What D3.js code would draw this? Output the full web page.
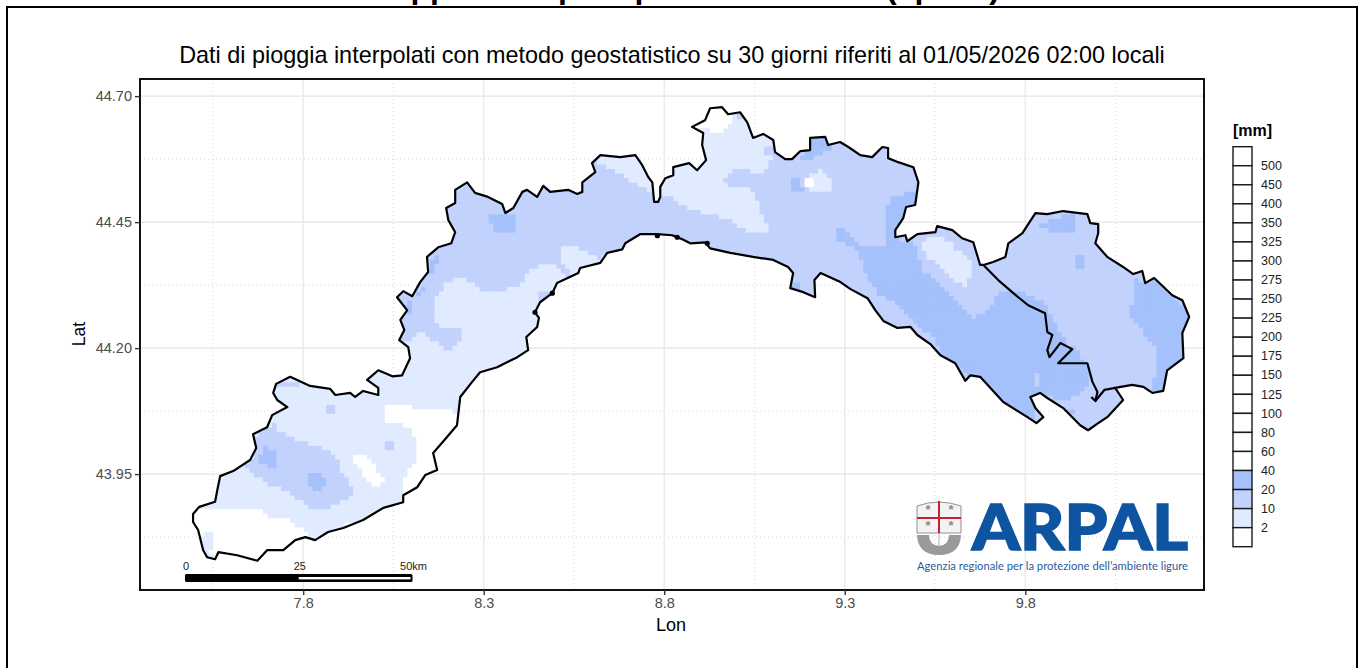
<!DOCTYPE html>
<html>
<head>
<meta charset="utf-8">
<script src="https://cdn.jsdelivr.net/npm/d3@7"></script>
<style>
html, body { margin: 0; padding: 0; background: #fff; }
text { font-family: "Liberation Sans", sans-serif; }
</style>
</head>
<body>
<div id="map"></div>
<script>
// regional border, lon/lat, clockwise from the west end
let regionBorder = [[7.556,43.781],[7.534,43.785],[7.523,43.799],[7.509,43.839],[7.495,43.855],[7.495,43.871],[7.512,43.885],[7.556,43.895],[7.562,43.918],[7.570,43.946],[7.606,43.956],[7.653,43.978],[7.670,44.002],[7.661,44.029],[7.700,44.043],[7.714,44.067],[7.756,44.083],[7.728,44.097],[7.717,44.111],[7.725,44.129],[7.764,44.143],[7.819,44.125],[7.875,44.119],[7.889,44.107],[7.930,44.111],[7.944,44.103],[7.966,44.115],[8.008,44.107],[8.008,44.121],[7.977,44.137],[8.008,44.156],[8.047,44.144],[8.074,44.146],[8.096,44.180],[8.091,44.202],[8.066,44.216],[8.080,44.236],[8.069,44.256],[8.088,44.275],[8.060,44.301],[8.077,44.313],[8.102,44.303],[8.124,44.331],[8.146,44.351],[8.143,44.381],[8.174,44.400],[8.210,44.408],[8.221,44.430],[8.202,44.454],[8.196,44.478],[8.221,44.488],[8.221,44.514],[8.254,44.529],[8.276,44.508],[8.312,44.500],[8.351,44.486],[8.360,44.468],[8.382,44.478],[8.407,44.510],[8.420,44.514],[8.448,44.500],[8.465,44.522],[8.484,44.510],[8.534,44.514],[8.559,44.506],[8.573,44.510],[8.573,44.529],[8.609,44.549],[8.600,44.567],[8.623,44.583],[8.678,44.579],[8.720,44.583],[8.739,44.563],[8.756,44.539],[8.767,44.529],[8.772,44.490],[8.783,44.490],[8.789,44.500],[8.789,44.520],[8.803,44.537],[8.825,44.543],[8.825,44.559],[8.869,44.567],[8.891,44.553],[8.916,44.573],[8.905,44.603],[8.908,44.627],[8.877,44.639],[8.913,44.652],[8.927,44.676],[8.960,44.678],[8.977,44.664],[9.010,44.668],[9.030,44.648],[9.046,44.617],[9.074,44.625],[9.102,44.613],[9.107,44.589],[9.135,44.575],[9.154,44.575],[9.177,44.591],[9.204,44.593],[9.204,44.617],[9.246,44.619],[9.254,44.603],[9.287,44.609],[9.310,44.599],[9.343,44.583],[9.376,44.579],[9.404,44.599],[9.420,44.597],[9.420,44.577],[9.448,44.569],[9.490,44.559],[9.504,44.529],[9.495,44.484],[9.470,44.480],[9.462,44.458],[9.440,44.434],[9.440,44.420],[9.468,44.424],[9.473,44.412],[9.501,44.426],[9.551,44.430],[9.556,44.442],[9.598,44.434],[9.625,44.418],[9.656,44.410],[9.675,44.365],[9.684,44.365],[9.711,44.371],[9.745,44.381],[9.753,44.408],[9.792,44.428],[9.828,44.468],[9.861,44.466],[9.905,44.472],[9.972,44.466],[9.980,44.448],[10.002,44.446],[10.002,44.428],[9.994,44.408],[10.027,44.381],[10.071,44.361],[10.099,44.347],[10.124,44.353],[10.132,44.329],[10.157,44.339],[10.207,44.305],[10.235,44.295],[10.254,44.262],[10.235,44.230],[10.238,44.180],[10.193,44.156],[10.182,44.115],[10.152,44.111],[10.127,44.123],[10.096,44.127],[10.049,44.121],[10.071,44.097],[10.027,44.063],[10.002,44.051],[9.974,44.037],[9.952,44.047],[9.905,44.081],[9.861,44.101],[9.841,44.111],[9.814,44.103],[9.828,44.081],[9.850,44.063],[9.831,44.051],[9.806,44.063],[9.739,44.093],[9.675,44.143],[9.648,44.146],[9.634,44.135],[9.606,44.170],[9.565,44.186],[9.537,44.208],[9.501,44.226],[9.482,44.242],[9.446,44.240],[9.407,44.254],[9.385,44.275],[9.363,44.299],[9.316,44.317],[9.288,44.331],[9.233,44.349],[9.216,44.335],[9.218,44.301],[9.185,44.311],[9.149,44.319],[9.157,44.349],[9.143,44.361],[9.102,44.375],[9.046,44.381],[8.983,44.389],[8.927,44.398],[8.914,44.410],[8.872,44.408],[8.850,44.416],[8.822,44.424],[8.781,44.426],[8.733,44.426],[8.692,44.408],[8.684,44.396],[8.642,44.389],[8.623,44.369],[8.567,44.359],[8.562,44.349],[8.503,44.329],[8.490,44.309],[8.456,44.291],[8.442,44.271],[8.453,44.260],[8.448,44.242],[8.418,44.222],[8.423,44.196],[8.393,44.182],[8.337,44.162],[8.290,44.152],[8.268,44.133],[8.235,44.103],[8.226,44.047],[8.193,44.019],[8.160,43.992],[8.171,43.958],[8.138,43.948],[8.116,43.924],[8.077,43.908],[8.077,43.894],[8.022,43.883],[7.966,43.859],[7.911,43.843],[7.869,43.835],[7.833,43.819],[7.806,43.825],[7.778,43.819],[7.745,43.799],[7.700,43.799],[7.673,43.778],[7.617,43.789],[7.565,43.795]];

// inner province lines near La Spezia
let innerLineA = [[9.684,44.365],[9.725,44.335],[9.767,44.309],[9.808,44.285],[9.855,44.269],[9.861,44.232],[9.875,44.226],[9.861,44.196],[9.867,44.182],[9.897,44.210],[9.930,44.198],[9.891,44.170],[9.972,44.170],[9.986,44.133],[10.000,44.113],[9.994,44.095],[9.983,44.103]];
let innerLineB = [[10.049,44.121],[10.019,44.117],[9.994,44.095]];
let harbourBlobs = [[8.919,44.408],[8.490,44.309],[8.442,44.271],[8.781,44.423],[8.836,44.420]];

// rain classes, bottom of the legend first
let classColors = ["#ffffff", "#e1ebff", "#c2d2fd", "#a4c1fb"];

// rain zones, each one paints over the ones before it
let zoneCentral = [[8.055,44.206],[8.091,44.216],[8.124,44.232],[8.152,44.222],[8.188,44.200],[8.213,44.196],[8.240,44.216],[8.240,44.232],[8.227,44.242],[8.179,44.242],[8.166,44.256],[8.166,44.301],[8.199,44.331],[8.229,44.341],[8.276,44.329],[8.285,44.315],[8.360,44.315],[8.401,44.329],[8.420,44.349],[8.465,44.371],[8.503,44.365],[8.534,44.341],[8.545,44.351],[8.512,44.367],[8.512,44.404],[8.559,44.404],[8.609,44.381],[8.628,44.381],[8.733,44.414],[8.900,44.365],[9.177,44.275],[9.343,44.246],[9.731,44.037],[10.091,44.017],[10.285,44.097],[10.285,44.652],[8.733,44.692],[8.180,44.553],[8.013,44.295]];
let zoneSouthWestDry = [[7.495,43.885],[7.578,43.885],[7.673,43.883],[7.703,43.865],[7.758,43.865],[7.810,43.833],[7.781,43.819],[7.745,43.795],[7.673,43.768],[7.556,43.770],[7.523,43.780],[7.473,43.865]];
let zoneSouthWestPatch = [[7.529,43.835],[7.551,43.835],[7.553,43.815],[7.542,43.795],[7.551,43.785],[7.523,43.785],[7.515,43.819]];
let zoneCoastDry = [[8.019,44.083],[8.091,44.093],[8.096,44.083],[8.199,44.083],[8.221,44.067],[8.235,44.047],[8.193,44.004],[8.174,43.984],[8.185,43.948],[8.132,43.938],[8.077,43.904],[8.069,43.928],[8.083,43.948],[8.116,43.984],[8.116,44.012],[8.102,44.041],[8.069,44.051],[8.027,44.053]];
let zoneDryStripe = [[7.936,43.982],[7.963,43.994],[7.986,43.978],[8.033,43.934],[7.994,43.928],[7.966,43.952]];
let zoneDryBit = [[7.903,43.849],[7.932,43.855],[7.938,43.849],[7.911,43.843]];
let zoneImperia = [[7.717,44.051],[7.736,44.033],[7.811,44.012],[7.861,44.002],[7.894,43.978],[7.911,43.952],[7.936,43.924],[7.930,43.904],[7.875,43.885],[7.819,43.885],[7.764,43.912],[7.703,43.932],[7.667,43.948],[7.639,43.962],[7.667,43.988],[7.667,44.027]];
let zoneImperiaA = [[7.675,43.988],[7.695,44.004],[7.714,44.002],[7.728,43.984],[7.722,43.966],[7.675,43.968]];
let zoneImperiaB = [[7.811,43.942],[7.828,43.956],[7.847,43.954],[7.861,43.938],[7.855,43.922],[7.828,43.920]];
let zoneDotA = [[7.866,44.087],[7.885,44.087],[7.885,44.073],[7.866,44.073]];
let zoneDotB = [[8.030,44.014],[8.049,44.014],[8.049,44.000],[8.030,44.000]];
let zoneNorthWestTop = [[7.722,44.131],[7.764,44.139],[7.786,44.131],[7.783,44.123],[7.742,44.123]];
let zoneStura = [[8.623,44.563],[8.656,44.559],[8.700,44.533],[8.756,44.514],[8.789,44.510],[8.789,44.593],[8.603,44.593]];
let zoneGenovaNorth = [[8.778,44.502],[8.825,44.498],[8.864,44.478],[8.936,44.464],[8.983,44.458],[9.010,44.440],[9.038,44.426],[9.085,44.428],[9.085,44.442],[9.058,44.490],[9.044,44.517],[8.983,44.519],[8.963,44.539],[8.988,44.553],[9.038,44.553],[9.046,44.547],[9.080,44.553],[9.099,44.577],[9.120,44.613],[9.046,44.642],[8.919,44.692],[8.844,44.652],[8.778,44.573]];
let zoneNotch = [[9.082,44.603],[9.120,44.603],[9.120,44.581],[9.082,44.581]];
let zoneTopDry = [[8.872,44.642],[8.913,44.638],[8.933,44.627],[8.963,44.627],[8.963,44.637],[8.991,44.646],[8.991,44.668],[8.969,44.692],[8.899,44.692]];
let zoneHole = [[9.196,44.533],[9.209,44.549],[9.237,44.553],[9.265,44.537],[9.268,44.519],[9.252,44.507],[9.209,44.509],[9.196,44.517]];
let zoneHoleDot = [[9.193,44.535],[9.210,44.535],[9.210,44.521],[9.193,44.521]];
let zoneWetDot = [[9.146,44.535],[9.171,44.537],[9.184,44.523],[9.182,44.507],[9.163,44.509],[9.146,44.519]];
let zoneWetNorth = [[9.163,44.573],[9.190,44.587],[9.204,44.593],[9.204,44.632],[9.260,44.632],[9.265,44.595],[9.224,44.583],[9.207,44.571]];
let zoneWetBelt = [[9.268,44.430],[9.287,44.442],[9.307,44.434],[9.343,44.408],[9.404,44.406],[9.418,44.414],[9.418,44.484],[9.432,44.498],[9.468,44.508],[9.501,44.508],[9.523,44.513],[9.523,44.474],[9.473,44.470],[9.454,44.414],[9.490,44.410],[9.501,44.389],[9.517,44.355],[9.578,44.319],[9.620,44.285],[9.661,44.260],[9.681,44.270],[9.739,44.315],[9.767,44.315],[9.814,44.305],[9.861,44.289],[9.877,44.260],[9.888,44.240],[9.916,44.210],[9.944,44.196],[9.980,44.156],[9.980,44.131],[9.952,44.113],[9.916,44.093],[9.877,44.103],[9.841,44.111],[9.814,44.037],[9.675,44.127],[9.565,44.192],[9.543,44.222],[9.473,44.265],[9.431,44.295],[9.393,44.309],[9.365,44.339],[9.343,44.381],[9.323,44.400],[9.274,44.418]];
let zoneSpeziaHole = [[9.822,44.150],[9.844,44.150],[9.844,44.123],[9.822,44.123]];
let zoneSpeziaBit = [[9.916,44.083],[9.930,44.083],[9.944,44.071],[9.919,44.071]];
let zoneEastA = [[10.099,44.345],[10.132,44.329],[10.157,44.339],[10.270,44.262],[10.257,44.176],[10.202,44.107],[10.152,44.113],[10.152,44.140],[10.163,44.150],[10.163,44.202],[10.127,44.232],[10.091,44.262],[10.091,44.285],[10.102,44.301]];
let zoneEastB = [[9.833,44.448],[9.861,44.452],[9.905,44.464],[9.933,44.474],[9.944,44.454],[9.944,44.438],[9.925,44.428],[9.878,44.428],[9.861,44.438]];
let zoneEastC = [[9.933,44.379],[9.952,44.389],[9.969,44.379],[9.969,44.365],[9.952,44.351],[9.933,44.365]];
let zoneAveto = [[9.523,44.420],[9.559,44.424],[9.600,44.410],[9.606,44.398],[9.648,44.379],[9.650,44.349],[9.636,44.325],[9.611,44.331],[9.584,44.345],[9.565,44.365],[9.531,44.381],[9.517,44.400]];
let zoneSavonaWet = [[8.326,44.470],[8.360,44.466],[8.387,44.462],[8.387,44.428],[8.351,44.426],[8.326,44.436],[8.312,44.458]];
let zoneEdgeA = [[8.138,44.355],[8.179,44.398],[8.174,44.371],[8.152,44.345]];
let zoneEdgeB = [[8.116,44.309],[8.130,44.329],[8.138,44.321],[8.119,44.301]];
let zoneEdgeC = [[8.077,44.281],[8.091,44.299],[8.110,44.289],[8.091,44.267]];
let zoneCoastBit = [[8.448,44.313],[8.490,44.315],[8.465,44.295],[8.448,44.289]];
let zonePortofino = [[9.157,44.331],[9.182,44.331],[9.177,44.315],[9.149,44.319]];

// [class, zone]
let rainZones = [
    [2, zoneCentral], [0, zoneSouthWestDry], [1, zoneSouthWestPatch], [0, zoneCoastDry],
    [0, zoneDryStripe], [0, zoneDryBit], [2, zoneImperia], [3, zoneImperiaA], [3, zoneImperiaB],
    [2, zoneDotA], [2, zoneDotB], [2, zoneNorthWestTop], [1, zoneStura], [1, zoneGenovaNorth],
    [2, zoneNotch], [0, zoneTopDry], [1, zoneHole], [0, zoneHoleDot], [3, zoneWetDot],
    [3, zoneWetNorth], [3, zoneWetBelt], [2, zoneSpeziaHole], [3, zoneSpeziaBit], [3, zoneEastA],
    [3, zoneEastB], [3, zoneEastC], [1, zoneAveto], [3, zoneSavonaWet], [3, zoneEdgeA],
    [3, zoneEdgeB], [3, zoneEdgeC], [2, zoneCoastBit], [3, zonePortofino]
];

let lonTicks = [7.8, 8.3, 8.8, 9.3, 9.8];
let latTicks = [43.95, 44.2, 44.45, 44.7];
let lonMinor = [7.55, 8.05, 8.55, 9.05, 9.55, 10.05];
let latMinor = [43.825, 44.075, 44.325, 44.575];
let legendBreaks = ["500","450","400","350","325","300","275","250","225","200","175","150","125","100","80","60","40","20","10","2"];
let scaleKm = [0, 25, 50];

let cellLon = 0.0125, cellLat = 0.009;

let svg = d3.select("#map").append("svg")
    .attr("width", 1362)
    .attr("height", 668)
    .style("display", "block");

// page frame, the top of the sheet is cut off
svg.append("rect").attr("x", 7).attr("y", 7).attr("width", 1350).attr("height", 680)
    .attr("fill", "none").attr("stroke", "#000").attr("stroke-width", 2);

let titleRow = svg.append("text")
    .attr("y", -2.5)
    .style("font-size", "32px").style("font-weight", "bold");
titleRow.append("tspan").attr("x", 366).text("Mappa delle precipitazioni");
titleRow.append("tspan").attr("x", 768).text("stimate");
titleRow.append("tspan").attr("x", 886).text("(spline)");

svg.append("text")
    .attr("x", 672).attr("y", 63)
    .attr("text-anchor", "middle")
    .style("font-size", "23.4px")
    .text("Dati di pioggia interpolati con metodo geostatistico su 30 giorni riferiti al 01/05/2026 02:00 locali");

let panel = {left: 140, right: 1204, top: 79, bottom: 590};
let x = d3.scaleLinear().domain([7.348, 10.295]).range([panel.left, panel.right]);
let y = d3.scaleLinear().domain([44.734, 43.720]).range([panel.top, panel.bottom]);

// grid
let grid = svg.append("g");
grid.selectAll(".minorx").data(lonMinor).enter().append("line")
    .attr("x1", d => x(d)).attr("x2", d => x(d)).attr("y1", panel.top).attr("y2", panel.bottom)
    .attr("stroke", "#d6d6d6").attr("stroke-width", 1).attr("stroke-dasharray", "1,3");
grid.selectAll(".minory").data(latMinor).enter().append("line")
    .attr("y1", d => y(d)).attr("y2", d => y(d)).attr("x1", panel.left).attr("x2", panel.right)
    .attr("stroke", "#d6d6d6").attr("stroke-width", 1).attr("stroke-dasharray", "1,3");
grid.selectAll(".majorx").data(lonTicks).enter().append("line")
    .attr("x1", d => x(d)).attr("x2", d => x(d)).attr("y1", panel.top).attr("y2", panel.bottom)
    .attr("stroke", "#ebebeb").attr("stroke-width", 1.6);
grid.selectAll(".majory").data(latTicks).enter().append("line")
    .attr("y1", d => y(d)).attr("y2", d => y(d)).attr("x1", panel.left).attr("x2", panel.right)
    .attr("stroke", "#ebebeb").attr("stroke-width", 1.6);

// rain cells on the 1 km grid, clipped to the region
let borderLine = d3.line().x(d => x(d[0])).y(d => y(d[1]));
svg.append("clipPath").attr("id", "region").append("path").attr("d", borderLine(regionBorder) + "Z");

function classAt(p) {
    let c = 1;
    rainZones.forEach(function(z) {
        if (d3.polygonContains(z[1], p)) c = z[0];
    });
    return c;
}

let cells = [];
for (let lon = 7.47; lon < 10.27; lon += cellLon) {
    for (let lat = 43.76; lat < 44.69; lat += cellLat) {
        let corners = [[lon - cellLon, lat - cellLat], [lon + cellLon, lat - cellLat],
                       [lon - cellLon, lat + cellLat], [lon + cellLon, lat + cellLat]];
        if (corners.some(p => d3.polygonContains(regionBorder, p))) {
            cells.push({lon: lon, lat: lat, c: classAt([lon, lat])});
        }
    }
}
svg.append("g").attr("clip-path", "url(#region)")
    .selectAll("rect").data(cells).enter().append("rect")
    .attr("x", d => x(d.lon - cellLon / 2))
    .attr("y", d => y(d.lat + cellLat / 2))
    .attr("width", x(cellLon) - x(0) + 0.6)
    .attr("height", y(0) - y(cellLat) + 0.6)
    .attr("fill", d => classColors[d.c]);

// border
svg.append("path").attr("d", borderLine(regionBorder) + "Z")
    .attr("fill", "none").attr("stroke", "#000").attr("stroke-width", 2.2).attr("stroke-linejoin", "round");
[innerLineA, innerLineB].forEach(function(l) {
    svg.append("path").attr("d", borderLine(l))
        .attr("fill", "none").attr("stroke", "#000").attr("stroke-width", 2.2).attr("stroke-linejoin", "round");
});
svg.selectAll(".blob").data(harbourBlobs).enter().append("circle")
    .attr("cx", d => x(d[0])).attr("cy", d => y(d[1])).attr("r", 2.6).attr("fill", "#000");

// logo
let logo = svg.append("g");
logo.append("path").attr("d", "M917,506Q939,498 961,506L961,533L917,533Z")
    .attr("fill", "#f3f3f3").attr("stroke", "#777").attr("stroke-width", 0.8);
logo.append("path").attr("d", "M917,535L929,535Q929,545 939,546Q949,545 949,535L961,535Q960,555 939,555Q918,555 917,535Z")
    .attr("fill", "#9a9a9a");
logo.append("line").attr("x1", 939).attr("x2", 939).attr("y1", 533).attr("y2", 546).attr("stroke", "#999").attr("stroke-width", 0.8);
logo.append("line").attr("x1", 917).attr("x2", 961).attr("y1", 518).attr("y2", 518).attr("stroke", "#c9202f").attr("stroke-width", 2);
logo.append("line").attr("x1", 939).attr("x2", 939).attr("y1", 501).attr("y2", 533).attr("stroke", "#c9202f").attr("stroke-width", 2);
[[928, 514], [951, 514], [928, 530], [951, 530]].forEach(function(p) {
    logo.append("text").attr("x", p[0]).attr("y", p[1]).attr("text-anchor", "middle")
        .style("font-size", "13px").style("font-weight", "bold").attr("fill", "#8a8a8a").text("*");
});
logo.append("text").attr("x", 972).attr("y", 550)
    .attr("textLength", 216).attr("lengthAdjust", "spacingAndGlyphs")
    .style("font-family", "Lato").style("font-weight", "900").style("font-size", "63px")
    .attr("fill", "#0f54a0").attr("stroke", "#0f54a0").attr("stroke-width", 1.6).text("ARPAL");
logo.append("text").attr("x", 917).attr("y", 570)
    .attr("textLength", 271).attr("lengthAdjust", "spacingAndGlyphs")
    .style("font-family", "Lato").style("font-size", "11.5px")
    .attr("fill", "#2c5c98").text("Agenzia regionale per la protezione dell’ambiente ligure");

// km scale bar
let km = d3.scaleLinear().domain([0, 50]).range([185, 412.5]);
svg.append("rect").attr("x", km(0)).attr("y", 574).attr("width", km(50) - km(0)).attr("height", 8)
    .attr("rx", 1.5).attr("fill", "#000");
svg.append("rect").attr("x", km(25)).attr("y", 577).attr("width", km(50) - km(25) - 2).attr("height", 2.4)
    .attr("fill", "#fff");
svg.selectAll(".kmlabel").data(scaleKm).enter().append("text")
    .attr("x", d => km(d) + 1)
    .attr("y", 570)
    .attr("text-anchor", "middle")
    .attr("fill", "#222")
    .style("font-size", "11px")
    .text(d => d == 50 ? "50km" : d);

// panel and axes
svg.append("rect")
    .attr("x", panel.left).attr("y", panel.top)
    .attr("width", panel.right - panel.left).attr("height", panel.bottom - panel.top)
    .attr("fill", "none").attr("stroke", "#111").attr("stroke-width", 2);

let xAxis = svg.append("g").attr("transform", "translate(0," + panel.bottom + ")")
    .call(d3.axisBottom(x).tickValues(lonTicks).tickFormat(d3.format(".1f")).tickSize(5).tickPadding(3));
let yAxis = svg.append("g").attr("transform", "translate(" + panel.left + ",0)")
    .call(d3.axisLeft(y).tickValues(latTicks).tickFormat(d3.format(".2f")).tickSize(5).tickPadding(3));
[xAxis, yAxis].forEach(function(a) {
    a.select(".domain").remove();
    a.selectAll("line").attr("stroke", "#333").attr("stroke-width", 1.4);
    a.selectAll("text").attr("fill", "#4d4d4d").style("font-size", "14.5px")
        .style("font-family", "Liberation Sans");
});

svg.append("text").attr("x", 671).attr("y", 631).attr("text-anchor", "middle")
    .style("font-size", "18px").text("Lon");
svg.append("text").attr("transform", "translate(85,334) rotate(-90)").attr("text-anchor", "middle")
    .style("font-size", "17.5px").text("Lat");

// legend, 21 boxes and 20 labels on the box edges
let legendY = d3.scaleLinear().domain([0, 21]).range([146.7, 546.7]);
let legendFill = d3.range(21).map(i => i == 17 ? classColors[3] : i == 18 ? classColors[2] : i == 19 ? classColors[1] : "#ffffff");
svg.selectAll(".legendbox").data(legendFill).enter().append("rect")
    .attr("x", 1233)
    .attr("y", (d, i) => legendY(i))
    .attr("width", 19)
    .attr("height", legendY(1) - legendY(0))
    .attr("fill", d => d)
    .attr("stroke", "#1a1a1a")
    .attr("stroke-width", 1.4);
svg.selectAll(".legendlabel").data(legendBreaks).enter().append("text")
    .attr("x", 1261)
    .attr("y", (d, i) => legendY(i + 1) + 4.2)
    .attr("fill", "#222")
    .style("font-size", "12.5px")
    .text(d => d);
svg.append("text").attr("x", 1233).attr("y", 136)
    .style("font-size", "16px").style("font-weight", "bold").text("[mm]");
</script>
</body>
</html>
